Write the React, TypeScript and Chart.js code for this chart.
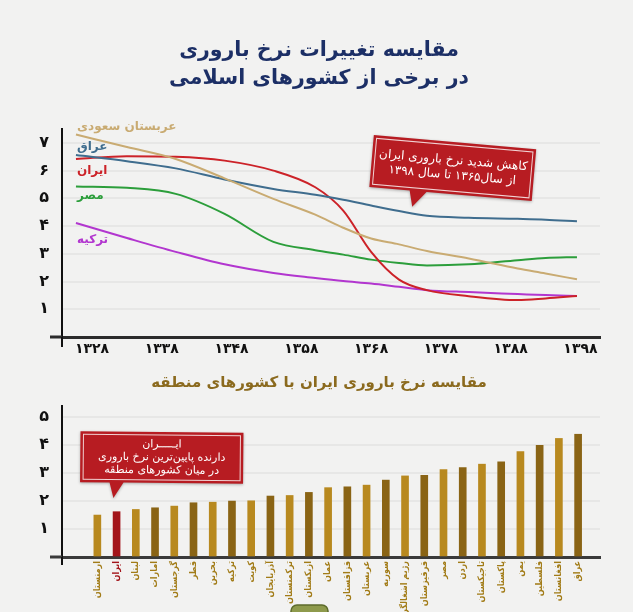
import React, { useEffect, useRef } from "react";
import { Chart, registerables } from "chart.js";

Chart.register(...registerables);

const FONT = "'DejaVu Sans', sans-serif";
const FONT_COND = "'DejaVu Sans Condensed', 'DejaVu Sans', sans-serif";

// ---- line chart data ----
const mainTitle = ["مقایسه تغییرات نرخ باروری", "در برخی از کشورهای اسلامی"];
const years = [1325.7, 1333, 1340, 1347, 1354, 1360, 1364, 1368, 1372, 1376, 1382, 1389, 1393, 1397.5];
const xTickYears = [1328, 1338, 1348, 1358, 1368, 1378, 1388, 1398];
const saudi = [7.3, 6.85, 6.42, 5.72, 4.98, 4.41, 3.94, 3.55, 3.34, 3.1, 2.83, 2.47, 2.29, 2.08];
const iraq = [6.56, 6.34, 6.08, 5.68, 5.34, 5.13, 4.95, 4.74, 4.54, 4.37, 4.3, 4.26, 4.23, 4.17];
const iran = [6.42, 6.52, 6.5, 6.36, 6.0, 5.4, 4.56, 3.07, 2.07, 1.69, 1.47, 1.33, 1.39, 1.48];
const egypt = [5.43, 5.38, 5.16, 4.44, 3.43, 3.13, 2.97, 2.79, 2.67, 2.58, 2.62, 2.77, 2.85, 2.88];
const turkey = [4.11, 3.57, 3.07, 2.62, 2.31, 2.13, 2.02, 1.93, 1.81, 1.69, 1.62, 1.55, 1.51, 1.48];
const seriesNames = ["عربستان سعودی", "عراق", "ایران", "مصر", "ترکیه"];
const seriesColors = ["#c9ab72", "#3f6d8e", "#cc2228", "#2c9e3b", "#b236cf"];
const seriesLabelValues = [7.58, 6.86, 6.0, 5.1, 3.52];
const callout1 = ["کاهش شدید نرخ باروری ایران", "از سال۱۳۶۵ تا سال ۱۳۹۸"];

// ---- bar chart data ----
const barTitle = "مقایسه نرخ باروری ایران با کشورهای منطقه";
const countries = [
  "ارمنستان", "ایران", "لبنان", "امارات", "گرجستان", "قطر", "بحرین", "ترکیه", "کویت",
  "آذربایجان", "ترکمنستان", "ازبکستان", "عمان", "قزاقستان", "عربستان", "سوریه",
  "رژیم اشغالگر", "قرقیزستان", "مصر", "اردن", "تاجیکستان", "پاکستان", "یمن",
  "فلسطین", "افغانستان", "عراق",
];
const rates = [
  1.5, 1.62, 1.7, 1.76, 1.82, 1.94, 1.96, 2.0, 2.01, 2.18, 2.2, 2.31, 2.48, 2.51,
  2.57, 2.75, 2.9, 2.92, 3.13, 3.2, 3.32, 3.4, 3.77, 3.99, 4.24, 4.39,
];
const callout2 = ["ایـــــران", "دارنده پایین‌ترین نرخ باروری", "در میان کشورهای منطقه"];

const faDigits = "۰۱۲۳۴۵۶۷۸۹";
const toFa = (v: number | string) => String(v).replace(/\d/g, (d) => faDigits[Number(d)]);

type CalloutOpts = {
  cx: number; cy: number; w: number; h: number; angle: number;
  pb0: number; pb1: number; tipX: number; tipY: number;
  lines: string[]; size: number; gap: number;
};

function drawCallout(ctx: CanvasRenderingContext2D, o: CalloutOpts) {
  ctx.save();
  ctx.translate(o.cx, o.cy);
  ctx.rotate((o.angle * Math.PI) / 180);
  const hw = o.w / 2, hh = o.h / 2;
  ctx.beginPath();
  ctx.moveTo(-hw, -hh);
  ctx.lineTo(hw, -hh);
  ctx.lineTo(hw, hh);
  ctx.lineTo(o.pb1, hh);
  ctx.lineTo(o.tipX, o.tipY);
  ctx.lineTo(o.pb0, hh);
  ctx.lineTo(-hw, hh);
  ctx.closePath();
  ctx.shadowColor = "rgba(0,0,0,0.3)";
  ctx.shadowBlur = 3;
  ctx.shadowOffsetY = 1;
  ctx.fillStyle = "#b71c22";
  ctx.fill();
  ctx.shadowColor = "transparent";
  ctx.strokeStyle = "rgba(255,255,255,0.8)";
  ctx.lineWidth = 1;
  ctx.strokeRect(-hw + 3, -hh + 3, o.w - 6, o.h - 6);
  ctx.fillStyle = "#ffffff";
  ctx.font = `${o.size}px ${FONT}`;
  ctx.textAlign = "center";
  ctx.textBaseline = "middle";
  (ctx as any).direction = "rtl";
  o.lines.forEach((t, i) => ctx.fillText(t, 0, (i - (o.lines.length - 1) / 2) * o.gap));
  ctx.restore();
}

const lineDecor = {
  id: "lineDecor",
  afterDraw(chart: any) {
    const ctx: CanvasRenderingContext2D = chart.ctx;
    const { left, bottom } = chart.chartArea;
    const ys = chart.scales.y;
    const xs = chart.scales.x;
    ctx.save();
    ctx.strokeStyle = "#2b2b2b";
    ctx.lineWidth = 3;
    ctx.beginPath();
    ctx.moveTo(left - 12, bottom);
    ctx.lineTo(left, bottom);
    ctx.stroke();
    ctx.strokeStyle = "#111";
    ctx.lineWidth = 2;
    ctx.beginPath();
    ctx.moveTo(left, bottom);
    ctx.lineTo(left, bottom + 10);
    ctx.stroke();
    ctx.font = `bold 12px ${FONT}`;
    ctx.textAlign = "left";
    ctx.textBaseline = "middle";
    seriesNames.forEach((n, i) => {
      ctx.fillStyle = seriesColors[i];
      ctx.fillText(n, left + 15, ys.getPixelForValue(seriesLabelValues[i]));
    });
    ctx.restore();
    drawCallout(ctx, {
      cx: xs.getPixelForValue(1379.7), cy: ys.getPixelForValue(6.09),
      w: 163, h: 52, angle: 5,
      pb0: -41, pb1: -24, tipX: -37, tipY: 42,
      lines: callout1, size: 12, gap: 15,
    });
  },
};

const barDecor = {
  id: "barDecor",
  afterDraw(chart: any) {
    const ctx: CanvasRenderingContext2D = chart.ctx;
    const { left, bottom } = chart.chartArea;
    const ys = chart.scales.y;
    const xs = chart.scales.x;
    ctx.save();
    ctx.strokeStyle = "#3a3a3a";
    ctx.lineWidth = 3;
    ctx.beginPath();
    ctx.moveTo(left - 12, bottom);
    ctx.lineTo(left, bottom);
    ctx.stroke();
    ctx.strokeStyle = "#111";
    ctx.lineWidth = 2;
    ctx.beginPath();
    ctx.moveTo(left, bottom);
    ctx.lineTo(left, bottom + 8);
    ctx.stroke();
    ctx.fillStyle = "#8e9a4c";
    ctx.strokeStyle = "#5d6b2b";
    ctx.lineWidth = 1.5;
    ctx.beginPath();
    (ctx as any).roundRect(291, chart.height - 7, 37, 16, 6);
    ctx.fill();
    ctx.stroke();
    ctx.restore();
    drawCallout(ctx, {
      cx: xs.getPixelForValue(3.35), cy: ys.getPixelForValue(3.56),
      w: 163, h: 51, angle: 0.5,
      pb0: -52, pb1: -38, tipX: -48, tipY: 41,
      lines: callout2, size: 11, gap: 13,
    });
  },
};

export default function App() {
  const lineRef = useRef<HTMLCanvasElement>(null);
  const barRef = useRef<HTMLCanvasElement>(null);

  useEffect(() => {
    const allSeries = [saudi, iraq, iran, egypt, turkey];
    const lineChart = new Chart(lineRef.current!, {
      type: "line",
      data: {
        datasets: allSeries.map((vals, si) => ({
          label: seriesNames[si],
          data: years.map((yr, i) => ({ x: yr, y: vals[i] })),
          borderColor: seriesColors[si],
          borderWidth: 2,
          pointRadius: 0,
          fill: false,
          cubicInterpolationMode: "monotone" as const,
        })),
      },
      options: {
        responsive: false,
        animation: false,
        layout: { padding: { left: 38, right: 33, top: 0, bottom: 0 } },
        plugins: {
          legend: { display: false },
          tooltip: { enabled: false },
          title: {
            display: true,
            text: mainTitle,
            color: "#1c2f66",
            font: { family: FONT, size: 20.5, weight: "bold", lineHeight: 1.366 },
            padding: { top: 37, bottom: 36 },
          },
        },
        scales: {
          x: {
            type: "linear",
            min: 1323.7,
            max: 1400.8,
            afterFit: (s: any) => { s.height = 34; },
            afterBuildTicks: (s: any) => { s.ticks = xTickYears.map((v) => ({ value: v })); },
            ticks: {
              callback: (v: any) => toFa(v),
              color: "#111",
              font: { family: FONT, size: 14, weight: "bold" },
              padding: 4,
              maxRotation: 0,
              autoSkip: false,
            },
            grid: { color: "rgba(0,0,0,0)", drawTicks: false },
            border: { color: "#2b2b2b", width: 3 },
          },
          y: {
            min: 0,
            max: 7.5,
            afterFit: (s: any) => { s.width = 24; },
            ticks: {
              stepSize: 1,
              includeBounds: false,
              callback: (v: any) => (v === 0 ? "" : toFa(v)),
              color: "#111",
              font: { family: FONT, size: 16, weight: "bold" },
              padding: 13,
            },
            grid: { color: "rgba(0,0,0,0.045)", lineWidth: 2, drawTicks: false },
            border: { color: "#111", width: 2 },
          },
        },
      },
      plugins: [lineDecor],
    } as any);

    const barChart = new Chart(barRef.current!, {
      type: "bar",
      data: {
        datasets: [
          {
            data: rates.map((v, i) => ({ x: i, y: v })),
            backgroundColor: rates.map((_, i) => (i === 1 ? "#a3151b" : i % 2 === 0 ? "#b8891f" : "#8a6415")),
            barThickness: 7,
          },
        ],
      },
      options: {
        responsive: false,
        animation: false,
        layout: { padding: { left: 38, right: 33, top: 0, bottom: 0 } },
        plugins: {
          legend: { display: false },
          tooltip: { enabled: false },
          title: {
            display: true,
            text: barTitle,
            color: "#8b6a1e",
            font: { family: FONT, size: 15, weight: "bold", lineHeight: 1.2 },
            padding: { top: 12, bottom: 14 },
          },
        },
        scales: {
          x: {
            type: "linear",
            min: -1.3,
            max: 25.6,
            afterFit: (s: any) => { s.height = 55; },
            afterBuildTicks: (s: any) => { s.ticks = countries.map((_, i) => ({ value: i })); },
            ticks: {
              callback: (v: any) => countries[v] ?? "",
              color: (c: any) => (c.index === 1 ? "#a3151b" : "#a27c18"),
              font: { family: FONT_COND, size: 9, weight: "bold" },
              padding: 4,
              minRotation: 90,
              maxRotation: 90,
              autoSkip: false,
            },
            grid: { color: "rgba(0,0,0,0)", drawTicks: false },
            border: { color: "#3a3a3a", width: 3 },
          },
          y: {
            min: 0,
            max: 5.4,
            afterFit: (s: any) => { s.width = 24; },
            ticks: {
              stepSize: 1,
              includeBounds: false,
              callback: (v: any) => (v === 0 ? "" : toFa(v)),
              color: "#111",
              font: { family: FONT, size: 16, weight: "bold" },
              padding: 13,
            },
            grid: { color: "rgba(0,0,0,0.045)", lineWidth: 2, drawTicks: false },
            border: { color: "#111", width: 2 },
          },
        },
      },
      plugins: [barDecor],
    } as any);

    return () => {
      lineChart.destroy();
      barChart.destroy();
    };
  }, []);

  return (
    <div
      style={{
        position: "fixed",
        left: 0,
        top: 0,
        width: 633,
        height: 612,
        overflow: "hidden",
        background: "#f2f2f1",
      }}
    >
      <canvas ref={lineRef} width={633} height={371} style={{ position: "absolute", left: 0, top: 0 }} />
      <canvas ref={barRef} width={633} height={250} style={{ position: "absolute", left: 0, top: 362 }} />
    </div>
  );
}
